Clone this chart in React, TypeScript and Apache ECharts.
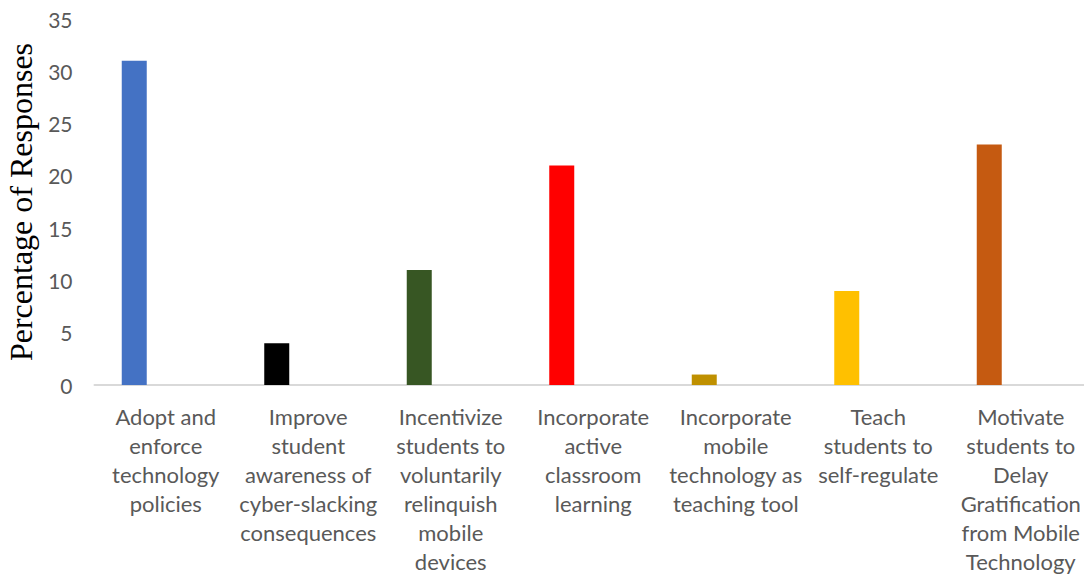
import React, { useEffect, useRef } from "react";
import * as echarts from "echarts";

const categories = [
  "Adopt and\nenforce\ntechnology\npolicies",
  "Improve\nstudent\nawareness of\ncyber-slacking\nconsequences",
  "Incentivize\nstudents to\nvoluntarily\nrelinquish\nmobile\ndevices",
  "Incorporate\nactive\nclassroom\nlearning",
  "Incorporate\nmobile\ntechnology as\nteaching tool",
  "Teach\nstudents to\nself-regulate",
  "Motivate\nstudents to\nDelay\nGratification\nfrom Mobile\nTechnology",
];
const values = [31, 4, 11, 21, 1, 9, 23];
const emptySeries = [null, null, null, null, null, null, null];
const barColors = ["#4472C4", "#000000", "#375623", "#FF0000", "#BF9000", "#FFC000", "#C55A11"];
const yTicks = { min: 0, max: 35, interval: 5 };

export default function App() {
  const ref = useRef<HTMLDivElement>(null);
  useEffect(() => {
    if (!ref.current) return;
    const chart = echarts.init(ref.current, undefined, { renderer: "svg" });
    chart.setOption({
      animation: false,
      backgroundColor: "#ffffff",
      grid: {
        left: 94.5,
        width: 997.5,
        top: 19,
        height: 366,
        containLabel: false,
        outerBoundsMode: "none",
      },
      xAxis: {
        type: "category",
        data: categories,
        axisLine: { lineStyle: { color: "#d9d9d9", width: 2 } },
        axisTick: { show: false },
        axisLabel: {
          interval: 0,
          color: "#595959",
          fontFamily: "Lato",
          fontSize: 22,
          lineHeight: 29,
          margin: 17,
          align: "center",
        },
      },
      yAxis: {
        type: "value",
        min: yTicks.min,
        max: yTicks.max,
        interval: yTicks.interval,
        axisLine: { show: false },
        axisTick: { show: false },
        splitLine: { show: false },
        axisLabel: {
          color: "#595959",
          fontFamily: "Lato",
          fontSize: 21,
          margin: 22,
        },
        name: "Percentage of Responses",
        nameLocation: "middle",
        nameGap: 56,
        nameTextStyle: {
          fontFamily: "Liberation Serif",
          fontSize: 32,
          color: "#000000",
        },
      },
      series: [
        {
          type: "bar",
          data: values.map((v, i) => ({ value: v, itemStyle: { color: barColors[i] } })),
          barWidth: 25,
          barGap: "152%",
        },
        {
          type: "bar",
          data: emptySeries,
          barWidth: 25,
        },
      ],
    });
    return () => chart.dispose();
  }, []);
  return (
    <div
      ref={ref}
      style={{ position: "fixed", left: 0, top: 0, width: 1084, height: 577 }}
    />
  );
}
